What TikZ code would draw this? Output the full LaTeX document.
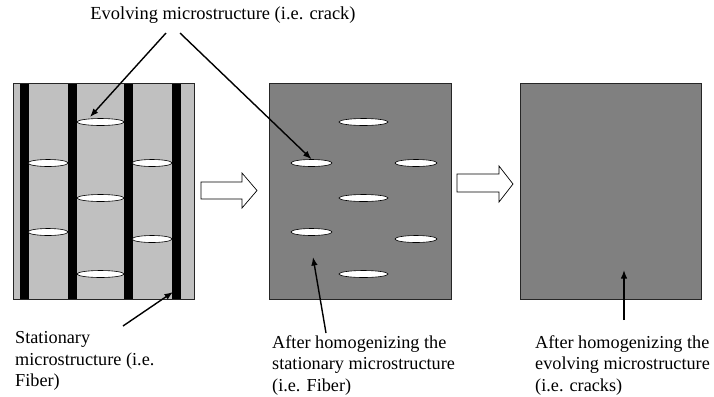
\documentclass[tikz,border=0pt]{standalone}
\usepackage{fontspec}
\setmainfont{Liberation Serif}
\usetikzlibrary{shapes.geometric,arrows.meta}
\definecolor{lightpanel}{HTML}{C0C0C0}
\definecolor{darkpanel}{HTML}{808080}
\tikzset{
  panel/.style={draw=black!85, line width=0.8bp, inner sep=0, anchor=north west,
    minimum height=216bp},
  crack/.style={ellipse, draw=black, fill=white, line width=0.6bp, inner sep=0,
    minimum height=7bp},
  fiber/.style={fill=black, inner sep=0, anchor=north west, minimum height=216bp,
    minimum width=8.5bp},
  lbl/.style={font=\fontsize{18.3}{21.8}\selectfont, align=left, inner sep=0,
    anchor=north west},
  ptr/.style={line width=1.4bp, -{Latex[length=8.5bp,width=6.5bp]}},
  blockarrow/.style={draw=black, fill=white, line width=0.7bp, line join=miter}
}
\begin{document}
\begin{tikzpicture}[x=1bp,y=-1bp]
\useasboundingbox (0,0) rectangle (714,396);

% panel 1
\node[panel, fill=lightpanel, minimum width=181bp] (p1) at (13,83) {};
\node[fiber] (f1) at (20,83) {};
\node[fiber] (f2) at (68,83) {};
\node[fiber] (f3) at (124,83) {};
\node[fiber] (f4) at (172,83) {};
\draw[draw=black!85, line width=0.8bp] (p1.north west) rectangle (p1.south east);
\node[crack, minimum width=47bp] (a1) at (100.5,122) {};
\node[crack, minimum width=40bp] (a2) at (48,163) {};
\node[crack, minimum width=40bp] (a3) at (152,163) {};
\node[crack, minimum width=47bp] (a4) at (100.5,198) {};
\node[crack, minimum width=40bp] (a5) at (48,232) {};
\node[crack, minimum width=40bp] (a6) at (152,239) {};
\node[crack, minimum width=47bp] (a7) at (100.5,274) {};

% panel 2
\node[panel, fill=darkpanel, minimum width=182bp] (p2) at (269,83) {};
\node[crack, minimum width=49bp] (b1) at (363.5,122) {};
\node[crack, minimum width=41bp] (b2) at (311.5,163) {};
\node[crack, minimum width=42bp] (b3) at (416,163) {};
\node[crack, minimum width=49bp] (b4) at (363.5,198) {};
\node[crack, minimum width=41bp] (b5) at (311.5,232) {};
\node[crack, minimum width=42bp] (b6) at (416,239) {};
\node[crack, minimum width=49bp] (b7) at (363.5,274) {};

% panel 3
\node[panel, fill=darkpanel, minimum width=181bp] (p3) at (520,83) {};

% block arrows
\draw[blockarrow] (201,182) -- (242,182) -- (242,173) -- (257,190.5) -- (242,208)
  -- (242,199) -- (201,199) -- cycle;
\draw[blockarrow] (457,174) -- (499,174) -- (499,166) -- (513,184) -- (499,202)
  -- (499,192) -- (457,192) -- cycle;

% labels
\node[font=\fontsize{18.5}{22.3}\selectfont, inner sep=0] (ev) at (223,15)
  {Evolving microstructure (i.e. crack)};
\node[lbl] (st) at (15,331) {Stationary\\microstructure (i.e.\\Fiber)};
\node[lbl] (h1) at (272,335) {After homogenizing the\\stationary microstructure\\(i.e. Fiber)};
\node[lbl] (h2) at (535,335) {After homogenizing the\\evolving microstructure\\(i.e. cracks)};

% pointer coordinates
\coordinate (e1) at (166,33);
\coordinate (e2) at (180,33);
\coordinate (t1) at (90,117);
\coordinate (s1) at (123,326);
\coordinate (t2) at (173,292);
\coordinate (s2) at (326,333);
\coordinate (t3) at (313,257);
\coordinate (s3) at (624,320);
\coordinate (t4) at (624,270);

\draw[ptr] (e1) -- (t1);
\draw[ptr] (e2) -- (b2.north);
\draw[ptr] (s1) -- (t2);
\draw[ptr] (s2) -- (t3);
\draw[ptr] (s3) -- (t4);
\end{tikzpicture}
\end{document}
